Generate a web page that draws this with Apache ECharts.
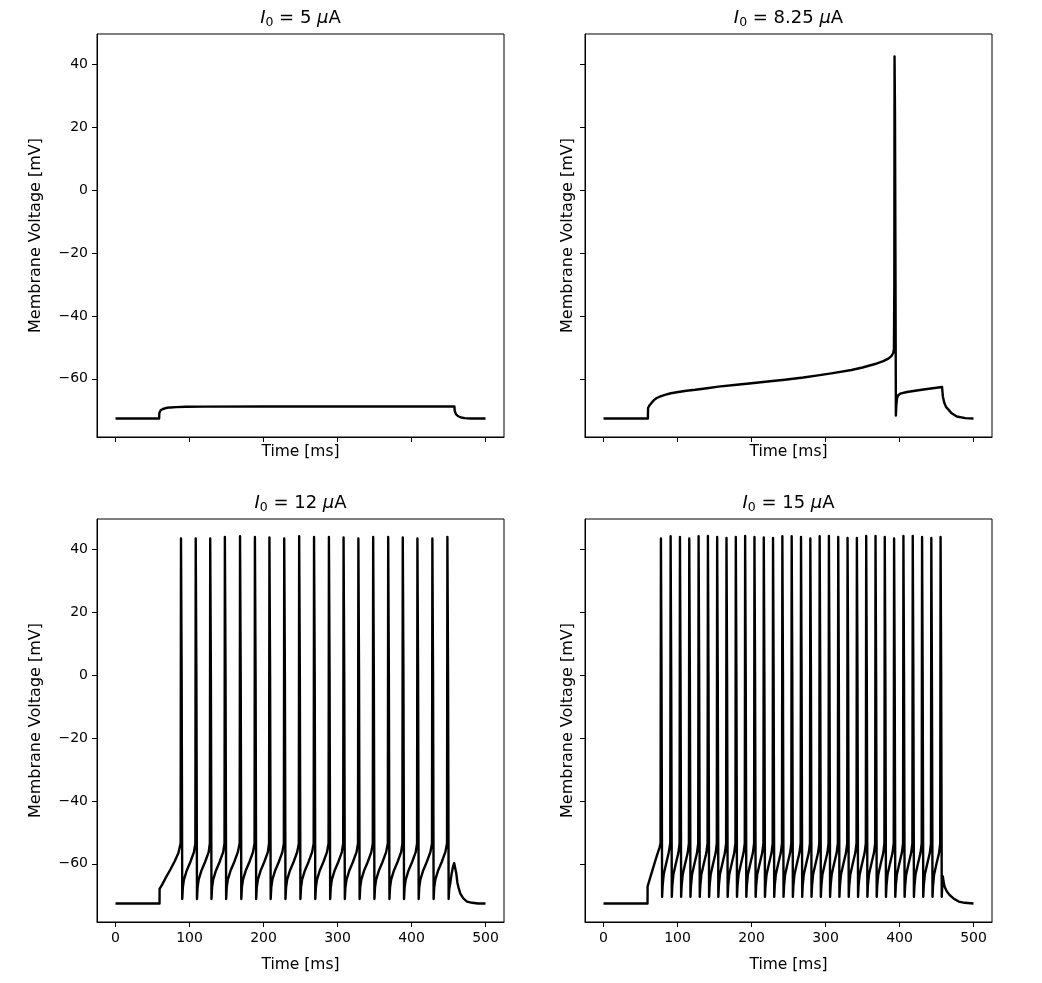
<!DOCTYPE html>
<html>
<head>
<meta charset="utf-8">
<script src="https://cdn.jsdelivr.net/npm/echarts@6/dist/echarts.min.js"></script>
<style>
html,body{margin:0;padding:0;background:#fff;}
#chart{width:1042px;height:983px;}
</style>
</head>
<body>
<div id="chart"></div>
<script>
// ---- Data (time [ms], membrane voltage [mV]) ----
const currents = ['5', '8.25', '12', '15'];
const xTicks = [0, 100, 200, 300, 400, 500];
const yTicks = [-60, -40, -20, 0, 20, 40];

const trace5 = [
  [0,-72.6],[59,-72.6],[59.2,-70.9],[61,-70.0],[64,-69.6],[68,-69.3],[74,-69.1],[82,-69.0],[95,-68.9],
  [120,-68.85],[200,-68.8],[300,-68.8],[400,-68.8],[458,-68.8],[458.4,-70.2],[460,-71.2],[463,-71.9],
  [467,-72.3],[472,-72.5],[480,-72.6],[500,-72.6]
];

const trace825 = [
  [0,-72.6],[60,-72.6],[60.2,-69.3],[62,-68.5],[65.4,-67.5],[68.5,-66.7],[72,-66.1],[77,-65.6],[83,-65.1],
  [91,-64.6],[101,-64.2],[112,-63.8],[124,-63.5],[140,-63.0],[155,-62.5],[180,-61.9],[200,-61.4],[225,-60.8],
  [245,-60.3],[270,-59.6],[290,-58.9],[310,-58.2],[335,-57.2],[350,-56.4],[367,-55.3],[378,-54.4],
  [385,-53.6],[389,-52.8],[391.5,-51.8],[392.5,-50.5],[393,-30],[393.3,42.5],[393.9,25],[394.5,-20],
  [395.1,-71.7],[395.7,-68.5],[396.6,-66.2],[398,-65.3],[401,-64.7],[410,-64.2],[430,-63.5],[457.5,-62.6],
  [458.6,-65.6],[460.5,-67.6],[463,-69.0],[466.2,-69.8],[470,-70.9],[477.5,-72.0],[489,-72.5],[500,-72.6]
];

const trace12 = [
  [0,-72.6],[59.5,-72.6],[59.6,-68.0],[63,-66.6],[68,-64.4],[74,-61.9],[80,-59.2],[85,-56.6],
  [88,-53.5],[88.5,43.4],[89.4,0],[90.2,-71.2],[91,-67.5],[92.5,-65],[96,-62.3],[101,-59.5],[106,-56.3],
  [107.9,-53.5],[108.4,43.4],[109.3,0],[110.1,-71.2],[110.9,-67.5],[112.4,-65],[115.9,-62.3],[120.9,-59.5],[125.9,-56.3],
  [127.5,-53.5],[128,43.4],[128.9,0],[129.7,-71.2],[130.5,-67.5],[132,-65],[135.5,-62.3],[140.5,-59.5],[145.5,-56.3],
  [147.3,-53.5],[147.8,43.9],[148.7,0],[149.5,-71.2],[150.3,-67.5],[151.8,-65],[155.3,-62.3],[160.3,-59.5],[165.3,-56.3],
  [167.8,-53.5],[168.3,44.1],[169.2,0],[170,-71.2],[170.8,-67.5],[172.3,-65],[175.8,-62.3],[180.8,-59.5],[185.8,-56.3],
  [187.9,-53.5],[188.4,43.9],[189.3,0],[190.1,-71.2],[190.9,-67.5],[192.4,-65],[195.9,-62.3],[200.9,-59.5],[205.9,-56.3],
  [207.5,-53.5],[208,43.7],[208.9,0],[209.7,-71.2],[210.5,-67.5],[212,-65],[215.5,-62.3],[220.5,-59.5],[225.5,-56.3],
  [227.5,-53.5],[228,43.4],[228.9,0],[229.7,-71.2],[230.5,-67.5],[232,-65],[235.5,-62.3],[240.5,-59.5],[245.5,-56.3],
  [247.7,-53.5],[248.2,44.1],[249.1,0],[249.9,-71.2],[250.7,-67.5],[252.2,-65],[255.7,-62.3],[260.7,-59.5],[265.7,-56.3],
  [267.8,-53.5],[268.3,43.9],[269.2,0],[270,-71.2],[270.8,-67.5],[272.3,-65],[275.8,-62.3],[280.8,-59.5],[285.8,-56.3],
  [287.9,-53.5],[288.4,43.9],[289.3,0],[290.1,-71.2],[290.9,-67.5],[292.4,-65],[295.9,-62.3],[300.9,-59.5],[305.9,-56.3],
  [307.7,-53.5],[308.2,43.7],[309.1,0],[309.9,-71.2],[310.7,-67.5],[312.2,-65],[315.7,-62.3],[320.7,-59.5],[325.7,-56.3],
  [327.7,-53.5],[328.2,43.4],[329.1,0],[329.9,-71.2],[330.7,-67.5],[332.2,-65],[335.7,-62.3],[340.7,-59.5],[345.7,-56.3],
  [347.7,-53.5],[348.2,43.9],[349.1,0],[349.9,-71.2],[350.7,-67.5],[352.2,-65],[355.7,-62.3],[360.7,-59.5],[365.7,-56.3],
  [368,-53.5],[368.5,43.9],[369.4,0],[370.2,-71.2],[371,-67.5],[372.5,-65],[376,-62.3],[381,-59.5],[386,-56.3],
  [387.7,-53.5],[388.2,43.7],[389.1,0],[389.9,-71.2],[390.7,-67.5],[392.2,-65],[395.7,-62.3],[400.7,-59.5],[405.7,-56.3],
  [407.5,-53.5],[408,43.4],[408.9,0],[409.7,-71.2],[410.5,-67.5],[412,-65],[415.5,-62.3],[420.5,-59.5],[425.5,-56.3],
  [427.7,-53.5],[428.2,43.4],[429.1,0],[429.9,-71.2],[430.7,-67.5],[432.2,-65],[435.7,-62.3],[440.7,-59.5],[445.7,-56.3],
  [448,-53.5],[448.5,43.9],[449.4,0],[450.2,-71.2],[451,-68],[452.5,-66],[454,-63.5],[456,-61],[457.7,-59.8],
  [459.5,-60.3],[460.5,-63],[462,-66],[463.5,-67.5],[466,-69.5],[470,-71],[475,-72],[482,-72.4],[490,-72.6],[500,-72.6]
];

const trace15 = [
  [0,-72.6],[59.5,-72.6],[59.6,-67.2],[63,-64.5],[67.6,-60.9],[72,-57.5],[75.5,-55],
  [77.1,-53.5],[77.6,43.4],[78.4,0],[79.2,-70.5],[79.9,-67],[81.3,-63.5],[84.6,-60],[88.1,-56.5],
  [90.2,-53.5],[90.7,44.1],[91.5,0],[92.3,-70.5],[93,-67],[94.4,-63.5],[97.7,-60],[101.2,-56.5],
  [102.8,-53.5],[103.3,43.9],[104.1,0],[104.9,-70.5],[105.6,-67],[107,-63.5],[110.3,-60],[113.8,-56.5],
  [115.4,-53.5],[115.9,43.4],[116.7,0],[117.5,-70.5],[118.2,-67],[119.6,-63.5],[122.9,-60],[126.4,-56.5],
  [128,-53.5],[128.5,44.1],[129.3,0],[130.1,-70.5],[130.8,-67],[132.2,-63.5],[135.5,-60],[139,-56.5],
  [140.6,-53.5],[141.1,44.2],[141.9,0],[142.7,-70.5],[143.4,-67],[144.8,-63.5],[148.1,-60],[151.6,-56.5],
  [153.1,-53.5],[153.6,43.9],[154.4,0],[155.2,-70.5],[155.9,-67],[157.3,-63.5],[160.6,-60],[164.1,-56.5],
  [165.7,-53.5],[166.2,43.6],[167,0],[167.8,-70.5],[168.5,-67],[169.9,-63.5],[173.2,-60],[176.7,-56.5],
  [178.3,-53.5],[178.8,43.9],[179.6,0],[180.4,-70.5],[181.1,-67],[182.5,-63.5],[185.8,-60],[189.3,-56.5],
  [190.9,-53.5],[191.4,44.2],[192.2,0],[193,-70.5],[193.7,-67],[195.1,-63.5],[198.4,-60],[201.9,-56.5],
  [203.5,-53.5],[204,43.9],[204.8,0],[205.6,-70.5],[206.3,-67],[207.7,-63.5],[211,-60],[214.5,-56.5],
  [216.1,-53.5],[216.6,43.7],[217.4,0],[218.2,-70.5],[218.9,-67],[220.3,-63.5],[223.6,-60],[227.1,-56.5],
  [228.6,-53.5],[229.1,43.6],[229.9,0],[230.7,-70.5],[231.4,-67],[232.8,-63.5],[236.1,-60],[239.6,-56.5],
  [241.2,-53.5],[241.7,44.1],[242.5,0],[243.3,-70.5],[244,-67],[245.4,-63.5],[248.7,-60],[252.2,-56.5],
  [253.8,-53.5],[254.3,44.1],[255.1,0],[255.9,-70.5],[256.6,-67],[258,-63.5],[261.3,-60],[264.8,-56.5],
  [266.4,-53.5],[266.9,43.9],[267.7,0],[268.5,-70.5],[269.2,-67],[270.6,-63.5],[273.9,-60],[277.4,-56.5],
  [279,-53.5],[279.5,43.4],[280.3,0],[281.1,-70.5],[281.8,-67],[283.2,-63.5],[286.5,-60],[290,-56.5],
  [291.6,-53.5],[292.1,44.1],[292.9,0],[293.7,-70.5],[294.4,-67],[295.8,-63.5],[299.1,-60],[302.6,-56.5],
  [304.1,-53.5],[304.6,44.2],[305.4,0],[306.2,-70.5],[306.9,-67],[308.3,-63.5],[311.6,-60],[315.1,-56.5],
  [316.7,-53.5],[317.2,43.9],[318,0],[318.8,-70.5],[319.5,-67],[320.9,-63.5],[324.2,-60],[327.7,-56.5],
  [329.3,-53.5],[329.8,43.6],[330.6,0],[331.4,-70.5],[332.1,-67],[333.5,-63.5],[336.8,-60],[340.3,-56.5],
  [341.9,-53.5],[342.4,43.6],[343.2,0],[344,-70.5],[344.7,-67],[346.1,-63.5],[349.4,-60],[352.9,-56.5],
  [354.5,-53.5],[355,44.2],[355.8,0],[356.6,-70.5],[357.3,-67],[358.7,-63.5],[362,-60],[365.5,-56.5],
  [367.1,-53.5],[367.6,44.2],[368.4,0],[369.2,-70.5],[369.9,-67],[371.3,-63.5],[374.6,-60],[378.1,-56.5],
  [379.6,-53.5],[380.1,43.9],[380.9,0],[381.7,-70.5],[382.4,-67],[383.8,-63.5],[387.1,-60],[390.6,-56.5],
  [392.2,-53.5],[392.7,43.4],[393.5,0],[394.3,-70.5],[395,-67],[396.4,-63.5],[399.7,-60],[403.2,-56.5],
  [404.8,-53.5],[405.3,44.2],[406.1,0],[406.9,-70.5],[407.6,-67],[409,-63.5],[412.3,-60],[415.8,-56.5],
  [417.4,-53.5],[417.9,44.2],[418.7,0],[419.5,-70.5],[420.2,-67],[421.6,-63.5],[424.9,-60],[428.4,-56.5],
  [430,-53.5],[430.5,43.9],[431.3,0],[432.1,-70.5],[432.8,-67],[434.2,-63.5],[437.5,-60],[441,-56.5],
  [442.5,-53.5],[443,43.6],[443.8,0],[444.6,-70.5],[445.3,-67],[446.7,-63.5],[450,-60],[453.5,-56.5],
  [455,-53.5],[455.5,43.9],[456.3,0],[457.1,-70.5],[457.9,-66],[458.6,-64],[459.4,-65.5],[461,-67.3],[464,-68.8],
  [468,-70],[473,-71],[480,-72],[488,-72.4],[500,-72.6]
];

const traces = [trace5, trace825, trace12, trace15];

// ---- Layout ----
const FONT = 'DejaVu Sans';
const gridPos = [
  {left: 97, top: 34}, {left: 585, top: 34},
  {left: 97, top: 519}, {left: 585, top: 519}
];
const GW = 407, GH = 403;
const X_MIN = -25, X_MAX = 525;
const Y_MIN = -78.5, Y_MAX = 49.6;
const fmtMinus = v => String(v).replace('-', '\u2212');

const grids = gridPos.map(p => ({
  left: p.left, top: p.top, width: GW, height: GH,
  show: true, borderColor: '#000', borderWidth: 1, backgroundColor: '#fff', containLabel: false
}));

const xAxes = gridPos.map((p, i) => ({
  type: 'value', gridIndex: i, min: X_MIN, max: X_MAX,
  name: 'Time [ms]', nameLocation: 'middle', nameGap: i < 2 ? 7 : 35,
  nameTextStyle: {fontFamily: FONT, fontSize: 15.5, color: '#000', verticalAlign: 'top'},
  axisLine: {show: true, onZero: false, lineStyle: {color: '#000', width: 1}},
  axisTick: {show: true, inside: false, length: 5, lineStyle: {color: '#000', width: 1}, customValues: xTicks},
  axisLabel: {show: i >= 2, margin: 9, fontFamily: FONT, fontSize: 14, color: '#000', customValues: xTicks,
              formatter: fmtMinus},
  splitLine: {show: false}
}));

const yAxes = gridPos.map((p, i) => ({
  type: 'value', gridIndex: i, min: Y_MIN, max: Y_MAX,
  name: 'Membrane Voltage [mV]', nameLocation: 'middle', nameGap: i % 2 === 0 ? 53 : 9,
  nameTextStyle: {fontFamily: FONT, fontSize: 16, color: '#000'},
  axisLine: {show: true, onZero: false, lineStyle: {color: '#000', width: 1}},
  axisTick: {show: true, inside: false, length: 5, lineStyle: {color: '#000', width: 1}, customValues: yTicks},
  axisLabel: {show: i % 2 === 0, margin: 9, fontFamily: FONT, fontSize: 14, color: '#000', customValues: yTicks,
              formatter: fmtMinus},
  splitLine: {show: false}
}));

const titles = gridPos.map((p, i) => ({
  text: '{i|I}{s|0}{n| = ' + currents[i] + ' }{m|\u03bc}{n|A}',
  left: p.left + GW / 2 - 5, top: p.top - 33, textAlign: 'center',
  textStyle: {
    fontWeight: 'normal',
    rich: {
      i: {fontFamily: FONT, fontSize: 18, fontStyle: 'italic', fontWeight: 'normal', color: '#000', lineHeight: 25},
      s: {fontFamily: FONT, fontSize: 12.5, fontWeight: 'normal', color: '#000', lineHeight: 25, padding: [9, 0, 0, 0]},
      n: {fontFamily: FONT, fontSize: 18, fontWeight: 'normal', color: '#000', lineHeight: 25},
      m: {fontFamily: FONT, fontSize: 18, fontStyle: 'italic', fontWeight: 'normal', color: '#000', lineHeight: 25}
    }
  }
}));

const series = traces.map((d, i) => ({
  type: 'line', xAxisIndex: i, yAxisIndex: i, data: d,
  showSymbol: false, symbol: 'none', smooth: false,
  lineStyle: {color: '#000', width: 2.4, join: 'round'},
  clip: true
}));

const chart = echarts.init(document.getElementById('chart'), null, {renderer: 'canvas'});
chart.setOption({
  animation: false,
  backgroundColor: '#fff',
  title: titles,
  grid: grids,
  xAxis: xAxes,
  yAxis: yAxes,
  series: series
});
</script>
</body>
</html>
